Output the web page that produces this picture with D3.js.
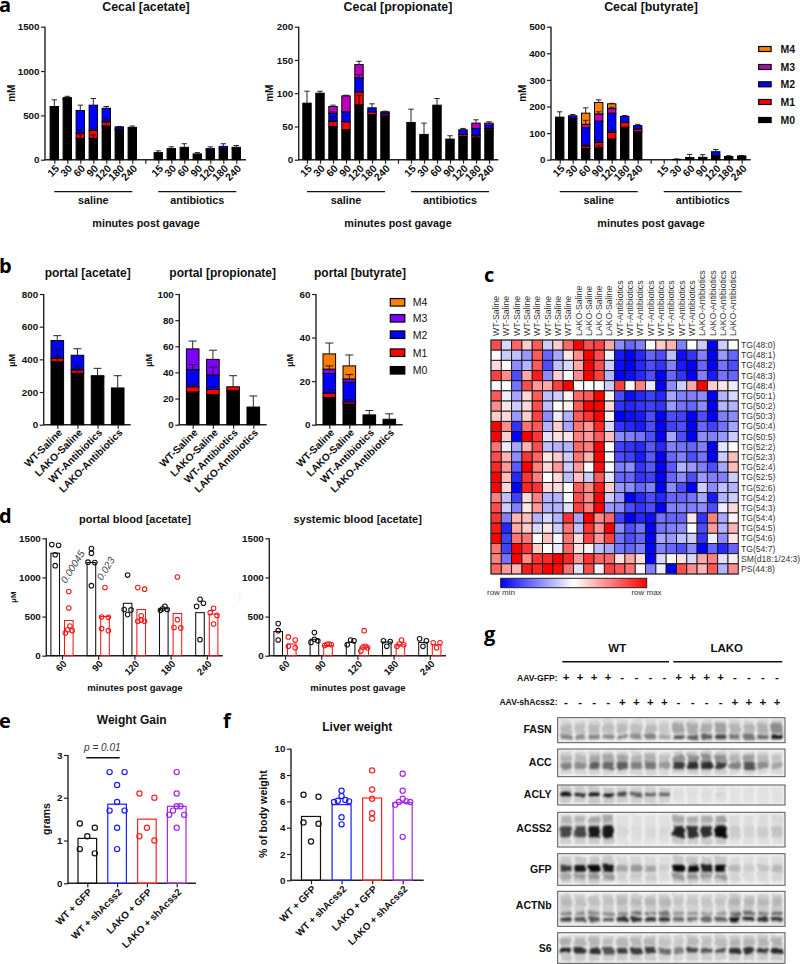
<!DOCTYPE html>
<html><head><meta charset="utf-8">
<script src="https://cdn.jsdelivr.net/npm/d3@7"></script>
<style>html,body{margin:0;padding:0;background:#fff}svg{display:block}text{font-family:"Liberation Sans",Arial,sans-serif;fill:#111}</style>
</head><body><div id="chart"></div>
<script>
// ---------- panel a ----------
const timeLabels = ["15","30","60","90","120","180","240","","15","30","60","90","120","180","240"];
const isotopologues = ["M0","M1","M2","M3","M4"];
const cecalAcetateM0 = [600,680,240,240,380,335,365,0,80,125,140,65,110,125,125];
const cecalAcetateM1 = [0,10,60,90,50,10,0,0,0,0,0,0,0,0,0];
const cecalAcetateM2 = [0,10,255,285,150,25,0,0,0,0,0,0,15,25,15];
const cecalAcetateE0 = [75,0,40,40,40,0,15,0,20,20,40,15,0,0,0];
const cecalAcetateE1 = [0,0,35,25,35,0,0,0,0,0,0,0,0,0,0];
const cecalAcetateE2 = [0,15,60,75,20,5,0,0,0,0,0,0,20,30,20];
const cecalPropM0 = [85,100,50,45,83,68,66,0,56,38,82,31,35,33,45];
const cecalPropM1 = [0,0,8,12,19,4,3,0,0,0,0,0,3,4,2];
const cecalPropM2 = [0,0,12,15,21,6,3,0,0,0,0,0,7,10,5];
const cecalPropM3 = [0,0,10,24,20,0,0,0,0,0,0,0,0,8,3];
const cecalPropE0 = [18,3,8,0,14,0,0,0,20,17,10,5,3,2,0];
const cecalPropE1 = [0,0,6,0,0,0,0,0,0,0,0,0,0,0,0];
const cecalPropE2 = [0,0,2,0,5,6,1,0,0,0,0,0,2,0,0];
const cecalPropE3 = [0,0,2,1,5,0,0,0,0,0,0,0,0,5,2];
const cecalButM0 = [160,155,42,45,78,122,105,0,0,1,8,9,15,12,14];
const cecalButM1 = [0,0,10,20,25,18,10,0,0,0,0,0,0,0,0];
const cecalButM2 = [0,10,68,80,72,23,13,0,0,0,0,0,15,0,0];
const cecalButM3 = [0,0,13,27,17,0,0,0,0,0,0,0,0,0,0];
const cecalButM4 = [0,0,42,43,18,0,0,0,0,0,0,0,0,0,0];
const cecalButE0 = [20,0,8,8,0,0,0,0,0,2,12,10,0,3,2];
const cecalButE1 = [0,0,6,8,12,0,0,0,0,0,0,0,0,0,0];
const cecalButE2 = [0,5,0,0,0,3,5,0,0,0,0,0,8,0,0];
const cecalButE3 = [0,0,15,8,5,0,0,0,0,0,0,0,0,0,0];
const cecalButE4 = [0,0,20,10,2,0,0,0,0,0,0,0,0,0,0];
// ---------- panel b ----------
const portalGroups = ["WT-Saline","LAKO-Saline","WT-Antibiotics","LAKO-Antibiotics"];
const portalAcM0 = [385,315,295,225];
const portalAcM1 = [22,20,0,0];
const portalAcM2 = [108,90,5,0];
const portalAcE0 = [35,30,0,75];
const portalAcE1 = [55,25,0,0];
const portalAcE2 = [30,40,45,0];
const portalPrM0 = [25,23,26,13.5];
const portalPrM1 = [4,4,3,0];
const portalPrM2 = [13,11,0,0];
const portalPrM3 = [16,12,0,0];
const portalPrE1 = [2,2,8.5,8.5];
const portalPrE2 = [4,6,0,0];
const portalPrE3 = [6,7,0,0];
const portalBuM0 = [12.5,9.5,4.5,2.5];
const portalBuM1 = [2,1,0,0];
const portalBuM2 = [9,9,0,0];
const portalBuM3 = [2,1.5,0,0];
const portalBuM4 = [7,6,0,0];
const portalBuE0 = [0,0,2,2.5];
const portalBuE1 = [1.5,1,0,0];
const portalBuE3 = [1.5,2,0,0];
const portalBuE4 = [5,5,0,0];
// ---------- panel c ----------
const heatRows = ["TG(48:0)","TG(48:1)","TG(48:2)","TG(48:3)","TG(48:4)","TG(50:1)","TG(50:2)","TG(50:3)","TG(50:4)","TG(50:5)","TG(52:2)","TG(52:3)","TG(52:4)","TG(52:5)","TG(52:6)","TG(54:2)","TG(54:3)","TG(54:4)","TG(54:5)","TG(54:6)","TG(54:7)","SM(d18:1/24:3)","PS(44:8)"];
const heatCols = ["WT-Saline","WT-Saline","WT-Saline","WT-Saline","WT-Saline","WT-Saline","WT-Saline","WT-Saline","LAKO-Saline","LAKO-Saline","LAKO-Saline","LAKO-Saline","WT-Antibiotics","WT-Antibiotics","WT-Antibiotics","WT-Antibiotics","WT-Antibiotics","WT-Antibiotics","WT-Antibiotics","WT-Antibiotics","LAKO-Antibiotics","LAKO-Antibiotics","LAKO-Antibiotics","LAKO-Antibiotics"];
const heatValues = [
[.7,-.15,.6,.2,.65,-.2,.2,.6,1,.7,.75,.35,-.45,-.6,-.5,0,.2,.3,-.5,0,-.2,-1,-.2,0],
[0,-.2,-.25,-.4,.65,-.6,-.35,.1,.45,1,.7,-.05,-.9,-1,-.85,-.6,-.7,-.25,-.95,-.8,-.5,-1,-.4,-.6],
[.15,0,-.45,-.3,.65,-.7,-.25,-.15,.35,1,.7,-.2,-.95,-1,-.85,-.7,-.8,-.5,-.9,-1,-.6,-1,-.55,-.7],
[.75,.45,-.7,.35,.9,-.45,.2,0,.45,1,.75,-.3,-1,-.95,-.85,-.7,-1,-.6,-.8,-1,-.5,-.9,-.55,-.6],
[0,0,-.55,.7,.4,.35,.75,1,0,0,0,-.2,.75,.03,.5,-.1,-1,-.45,-.2,.35,1,.2,.1,-.07],
[.65,-.07,-.35,.15,.65,-.25,-.2,.05,.6,.65,1,.05,-.7,-.95,-.85,-.75,-.85,-.35,-.5,-.5,-.45,-1,-.3,-.15],
[.45,.1,-.2,.15,.7,-.25,0,.05,.65,1,1,.15,-.8,-.85,-.8,-.75,-.8,-.4,-.55,-.6,-.45,-1,-.3,-.3],
[.2,.15,-.4,.2,.75,-.45,-.07,-.3,.65,.8,1,.05,-1,-.95,-.9,-.7,-1,-.7,-.75,-1,-.7,-1,-.5,-.45],
[1,.45,-.8,.55,.65,-.3,.2,-.35,.55,.4,.85,-.15,-.8,-.85,-.9,-.7,-1,-.75,-.7,-1,-.6,-.75,-.55,-.35],
[1,.2,-1,1,.8,-.12,.12,.1,.5,.4,.65,.25,-.45,-.5,-.55,-.7,-1,-.35,-.7,-1,-.45,-.5,-.4,-.2],
[.55,-.07,-.35,.3,.7,-.25,-.3,-.3,.6,.5,1,0,-.75,-.8,-.85,-.65,-.85,-.5,-.55,-.6,-.5,-1,-.1,0],
[.7,.3,-.45,.8,.6,.1,.2,-.2,.55,.3,1,0,-.7,-.75,-.9,-.65,-1,-.6,-.5,-.7,-.55,-1,-.2,.25],
[.85,.4,-.65,1,.5,.15,.4,-.2,.4,0,.95,-.03,-.5,-.45,-.8,-.65,-1,-.65,-.3,-.4,-.5,-.7,-.35,.25],
[1,.25,-.85,.8,.5,0,.15,-.25,.25,-.2,.65,-.1,-.6,-.6,-.8,-.75,-1,-.6,-.45,-.7,-.4,-.5,-.5,-.2],
[1,.15,-1,.85,.8,.15,.15,0,.65,.45,.9,.2,-.4,-.45,-.6,-.5,-1,-.45,-.7,-1,-.2,-.45,-.25,-.3],
[.5,-.25,-.75,.15,.5,-.3,-.3,0,.7,.45,1,-.2,-.4,-1,-.85,-.7,-.85,-.6,-.6,-.55,-.35,-.9,-.3,-.2],
[.7,-.2,-.5,.1,.4,-.3,-.3,-.12,.75,.5,1,-.4,-.45,-.7,-.8,-.7,-1,-.5,-.5,-.5,-.45,-.7,-.07,.15],
[.8,-.5,.3,.25,-.3,-.15,-.3,.8,-.35,1,.45,.6,-.75,-1,-.85,-.95,-.55,-.6,-.6,.1,-.8,.5,-.35,.05],
[.9,-.85,.35,.2,-.15,.1,-.2,.55,-.25,.8,.4,1,-.45,-.7,-.55,-1,-.55,-.5,-.45,0,-.7,.4,-.3,.3],
[1,-.75,.55,.55,0,.25,-.03,.55,.15,.75,.4,.75,-.55,-.7,-.6,-1,-.35,-.4,-.25,-.2,-.8,-.07,-.45,.1],
[.55,-.75,1,.8,.2,0,-.08,.6,.12,.05,-.25,-.35,-.55,-.6,-.5,-1,-.5,-.6,-.7,-.45,-1,-.6,-.85,-.6],
[.5,-.55,1,.45,.8,.85,1,.85,.4,.8,.6,.6,.12,.35,.12,-1,-.15,.03,.12,-.15,.35,.5,-.12,.07],
[.6,.4,.3,.9,.85,1,.95,.55,-.12,.7,-.05,.75,.65,.55,.03,-.5,-.07,-1,.7,.45,.3,.65,-.3,.45]
];
// ---------- panel d ----------
const dMinutes = ["60","90","120","180","240"];
const portalWtMeans = [1310,1190,670,600,550];
const portalKoMeans = [450,500,590,540,530];
const portalWtPoints = [[1420,1410,1290,1150],[1370,1310,1195,1190,895],[1030,590,585,525],[630,600,590,580],[720,670,630,205]];
const portalKoPoints = [[820,610,380,330,320,290],[870,495,490,345,320],[870,850,510,455,440,440],[1005,460,360,355],[605,550,515,405]];
const systemicWtMeans = [310,210,170,175,170];
const systemicKoMeans = [150,130,110,140,140];
const systemicWtPoints = [[410,320,200],[295,210,190,170],[200,190,140],[190,180,120],[215,190,120]];
const systemicKoPoints = [[240,200,120,100],[150,145,140,130],[320,120,110,100,60],[200,150,140,120],[165,165,100]];
// ---------- panels e, f ----------
const dietGroups = ["WT + GFP","WT + shAcss2","LAKO + GFP","LAKO + shAcss2"];
const gainMeans = [1.05,1.85,1.5,1.8];
const gainPoints = [[1.4,1.3,1.1,.8,.7],[2.6,2.6,2.3,1.9,1.7,1.7,1.3,.8],[2.1,2,1.3,1.1,1],[2.6,2.1,1.8,1.8,1.7,1.6,1.6,1.3]];
const liverMeans = [4.85,5.75,6.25,5.9];
const liverPoints = [[6.5,6.35,4.4,4.3,2.95],[6.8,6.4,6.1,6.05,6,5.95,4.8,4.25],[8.35,6.9,6.2,5.1,4.7],[8.1,6.8,6.2,6,5.95,5.95,5.75,3.3]];
// ---------- panel g (band darkness per lane) ----------
const gfpSigns = ["+","+","+","+","-","-","-","-","+","+","+","+","-","-","-","-"];
const shSigns  = ["-","-","-","-","+","+","+","+","-","-","-","-","+","+","+","+"];
const blotFASN  = [.5,.45,.5,.45,.5,.45,.5,.35,.7,.65,.65,.75,.55,.55,.6,.95];
const blotACC   = [.5,.45,.65,.6,.65,.5,.55,.4,.8,.85,.85,.8,.5,.7,.45,.35];
const blotACLY  = [.95,.85,.95,.95,.75,.65,.65,.6,.05,.06,.08,.12,.02,.02,.03,.03];
const blotACSS2 = [.75,.75,.95,.95,.08,.06,.08,.08,.9,.85,.85,1,.15,.12,.15,.2];
const blotGFP   = [.8,.95,1,.95,.35,.4,.35,.15,1,1,.9,1,.25,.15,.2,.25];
const blotACTNb = [.8,.7,.7,.7,.85,.85,.85,.85,.6,.6,.6,.65,.95,.9,.85,.9];
const blotS6    = [.95,.85,.85,.7,.8,.8,.8,.6,.5,.75,.7,.7,.85,.85,.85,.9];

const svg = d3.select("#chart").append("svg").attr("width",800).attr("height",964).attr("viewBox","0 0 800 964");
const F = '"Liberation Sans",Arial,sans-serif';
function txt(x,y,s,o={}){
  const t = svg.append("text").attr("x",x).attr("y",y).text(s)
   .attr("font-size",o.size||10).attr("font-weight",o.weight||"bold")
   .attr("text-anchor",o.anchor||"middle").attr("font-style",o.style||"normal");
  if(o.fill) t.style("fill",o.fill);
  if(o.family) t.style("font-family",o.family);
  if(o.rot!=null) t.attr("transform",`rotate(${o.rot} ${x} ${y})`);
  return t;
}
function hline(x1,x2,y,w,c){svg.append("line").attr("x1",x1).attr("x2",x2).attr("y1",y).attr("y2",y).attr("stroke",c||"#111").attr("stroke-width",w||1.4);}
const letter=(x,y,s)=>txt(x,y,s,{size:20,anchor:"start",family:'"Open Sans"',fill:"#000"});
function styleAxis(g){
  g.select(".domain").remove();
  g.selectAll(".tick line").attr("stroke","#222").attr("stroke-width",1.2);
  g.selectAll("text").attr("font-size",9.8).attr("font-weight","bold").style("font-family",F).style("fill","#111");
}
function frame(o,xScale,yScale,labels,labelSize){
  const g=svg.append("g");
  const ax=g.append("g").attr("transform",`translate(${o.axisX},0)`)
    .call(d3.axisLeft(yScale).tickValues(o.ticks).tickFormat(d3.format("d")).tickSize(4).tickSizeOuter(0));
  styleAxis(ax);
  ax.selectAll("text").attr("x",-5.5);
  const bx=g.append("g").attr("transform",`translate(0,${o.y0})`)
    .call(d3.axisBottom(xScale).tickSize(4).tickSizeOuter(0).tickFormat(i=>labels[i]));
  styleAxis(bx);
  bx.selectAll("text").attr("text-anchor","end").attr("x",0).attr("y",0).attr("dy",".35em")
    .attr("font-size",labelSize||9.8).attr("transform",`translate(2.5,${o.tilt||7}) rotate(-45)`);
  svg.append("line").attr("x1",o.axisX).attr("x2",o.axisX).attr("y1",yScale.range()[1]).attr("y2",o.y0).attr("stroke","#222").attr("stroke-width",1.4);
  hline(o.axisX-.7,o.xEnd,o.y0,1.4,"#222");
}
const colorsA=["#000","#ff0000","#0000ff","#c000c0","#ff8000"];
const colorsB=["#000","#ff0000","#0000ff","#8000ff","#ff8000"];
function stacked(o){
  const n=o.labels.length;
  const x=d3.scalePoint().domain(d3.range(n)).range([o.first,o.last]);
  const y=d3.scaleLinear().domain([0,o.max]).range([o.y0,o.yTop]);
  frame(o,x,y,o.labels,o.labelSize);
  const rows=d3.range(n).map(i=>{const r={i};o.series.forEach((s,k)=>r[k]=s[i]);return r;});
  const keys=o.series.map((s,k)=>k);
  const st=d3.stack().keys(keys)(rows);
  st.forEach((layer,k)=>{
    svg.append("g").selectAll("rect").data(layer.filter(d=>d[1]>d[0])).join("rect")
      .attr("x",d=>x(d.data.i)-o.barW/2).attr("width",o.barW)
      .attr("y",d=>y(d[1])).attr("height",d=>y(d[0])-y(d[1]))
      .attr("fill",o.colors[k]).attr("stroke","#000").attr("stroke-width",1);
  });
  st.forEach((layer,k)=>{
    const e=o.errs[k]; if(!e) return;
    layer.forEach(d=>{
      const i=d.data.i; if(!e[i]) return;
      const top=d[1]+e[i], cx=x(i);
      svg.append("path").attr("d",`M${cx},${y(d[1])}V${y(top)}M${cx-o.cap/2},${y(top)}H${cx+o.cap/2}`)
        .attr("stroke","#111").attr("stroke-width",.9).attr("fill","none");
    });
  });
  txt(o.titleX,o.titleY,o.title,{size:o.titleSize||12.4});
  txt(o.ylabelX,(o.y0+o.yTop)/2+o.ylabelDy,o.ylabel,{size:o.ylabelSize||10,rot:-90});
}
const A={y0:159.7,yTop:26.7,barW:8.4,cap:5.4,labels:timeLabels,colors:colorsA,titleY:10.5,ylabel:"mM",ylabelDy:0,tilt:7,labelSize:10.4};
stacked({...A,axisX:45,first:54.3,last:236.3,xEnd:246,max:1500,ticks:[0,500,1000,1500],title:"Cecal [acetate]",titleX:146,ylabelX:14.7,
  series:[cecalAcetateM0,cecalAcetateM1,cecalAcetateM2],errs:[cecalAcetateE0,cecalAcetateE1,cecalAcetateE2]});
stacked({...A,axisX:298.7,first:307,last:489,xEnd:498.3,max:200,ticks:[0,50,100,150,200],title:"Cecal [propionate]",titleX:398,ylabelX:273,
  series:[cecalPropM0,cecalPropM1,cecalPropM2,cecalPropM3],errs:[cecalPropE0,cecalPropE1,cecalPropE2,cecalPropE3]});
stacked({...A,axisX:551,first:559.7,last:741.7,xEnd:750.7,max:500,ticks:[0,100,200,300,400,500],title:"Cecal [butyrate]",titleX:651,ylabelX:526,
  series:[cecalButM0,cecalButM1,cecalButM2,cecalButM3,cecalButM4],errs:[cecalButE0,cecalButE1,cecalButE2,cecalButE3,cecalButE4]});
function groupRule(x1,x2,label){hline(x1,x2,191.7,1.3);txt((x1+x2)/2,204,label,{size:10.8});}
[[54.3,132.3,"saline"],[158.3,236.3,"antibiotics"],[307,385,"saline"],[411,489,"antibiotics"],[559.7,637.7,"saline"],[663.7,741.7,"antibiotics"]].forEach(a=>groupRule(...a));
[146,398,651].forEach(x=>txt(x,227,"minutes post gavage",{size:10.8}));
function legend(keys,colors,ys,x,w,h,lx,weight,size){
  keys.forEach((k,i)=>{
    svg.append("rect").attr("x",x).attr("y",ys[i]-h/2).attr("width",w).attr("height",h).attr("fill",colors[k]).attr("stroke","#000").attr("stroke-width",1.2);
    txt(lx,ys[i]+3.8,isotopologues[k],{size,anchor:"start",weight});
  });
}
legend([4,3,2,1,0],colorsA,[49,67,84.3,102,120],758.7,12.4,5,780.5,"bold",10.5);
// b
const B={y0:424.7,yTop:294,barW:12.6,cap:8,labels:portalGroups,colors:colorsB,titleY:277,titleSize:12,ylabel:"\u00b5M",ylabelDy:1,ylabelSize:9,labelSize:10.2,tilt:6};
stacked({...B,axisX:43.7,first:57.3,last:117.7,xEnd:130.7,max:800,ticks:[0,200,400,600,800],title:"portal [acetate]",titleX:87.7,ylabelX:15,
  series:[portalAcM0,portalAcM1,portalAcM2],errs:[portalAcE0,portalAcE1,portalAcE2]});
stacked({...B,axisX:179.3,first:192.7,last:253.3,xEnd:266.7,max:100,ticks:[0,20,40,60,80,100],title:"portal [propionate]",titleX:222.7,ylabelX:151.7,
  series:[portalPrM0,portalPrM1,portalPrM2,portalPrM3],errs:[null,portalPrE1,portalPrE2,portalPrE3]});
stacked({...B,axisX:316,first:329.3,last:389.3,xEnd:402.7,max:60,ticks:[0,20,40,60],title:"portal [butyrate]",titleX:360,ylabelX:292.7,
  series:[portalBuM0,portalBuM1,portalBuM2,portalBuM3,portalBuM4],errs:[portalBuE0,portalBuE1,null,portalBuE3,portalBuE4]});
legend([4,3,2,1,0],colorsB,[302.3,318.3,334.7,352.7,370.3],390.3,14.5,7.5,412.7,"normal",10.5);
// c heatmap
const hx=d3.scaleBand().domain(d3.range(heatCols.length)).range([491,738.3]);
const hy=d3.scaleBand().domain(d3.range(heatRows.length)).range([340,574]);
const heatColor=d3.scaleLinear().domain([-1,0,1]).range(["#0000ff","#ffffff","#ff0000"]);
const hg=svg.append("g");
heatValues.forEach((row,r)=>{
  hg.append("g").selectAll("rect").data(row).join("rect")
    .attr("x",(d,c)=>hx(c)).attr("y",hy(r)).attr("width",hx.bandwidth()).attr("height",hy.bandwidth())
    .attr("fill",d=>heatColor(d)).attr("stroke","#111").attr("stroke-width",.9);
});
svg.append("rect").attr("x",491).attr("y",340).attr("width",247.3).attr("height",234).attr("fill","none").attr("stroke","#444").attr("stroke-width",1);
heatRows.forEach((s,r)=>txt(741,hy(r)+hy.bandwidth()/2+3,s,{size:8.6,weight:"normal",anchor:"start",fill:"#333"}));
heatCols.forEach((s,c)=>{const x=hx(c)+hx.bandwidth()/2+3;txt(x,336,s,{size:8.7,weight:"normal",anchor:"start",rot:-90,fill:"#333"});});
const defs=svg.append("defs");
const grad=defs.append("linearGradient").attr("id","rowGrad");
heatColor.domain().forEach((d,i)=>grad.append("stop").attr("offset",(d+1)/2).attr("stop-color",heatColor(d)));
svg.append("rect").attr("x",500.7).attr("y",578.3).attr("width",146).attr("height",9.4).attr("fill","url(#rowGrad)").attr("stroke","#222").attr("stroke-width",1);
txt(501,594.5,"row min",{size:8,weight:"normal",fill:"#333"});
txt(646.5,594.5,"row max",{size:8,weight:"normal",fill:"#333"});
// spread of nearby points, as in a scatter column
function spread(values,yScale,thr,d){
  const sorted=[...values].sort((a,b)=>b-a),out=[];
  let cl=[];
  const flush=()=>{
    const n=cl.length;
    let slots=n===1?[0]:n===2?[-d,d]:d3.range(n).map(i=>-d+2*d*i/(n-1));
    if(n>2) slots.sort((a,b)=>Math.abs(a)-Math.abs(b)||b-a);
    cl.forEach((v,i)=>out.push({v,dx:slots[i]}));cl=[];
  };
  sorted.forEach(v=>{
    if(cl.length&&yScale(v)-yScale(cl[cl.length-1])>thr) flush();
    cl.push(v);
  });
  flush();
  return out;
}
function col(cx,w,mean,pts,y,y0,color,thr,d,r,sw){
  svg.append("rect").attr("x",cx-w/2).attr("width",w).attr("y",y(mean)).attr("height",y0-y(mean)).attr("fill","none").attr("stroke",color).attr("stroke-width",sw);
  svg.append("g").selectAll("circle").data(spread(pts,y,thr,d)).join("circle")
    .attr("cx",p=>cx+p.dx).attr("cy",p=>y(p.v)).attr("r",r).attr("fill","none").attr("stroke",color).attr("stroke-width",sw);
}
function panelD(o){
  const x=d3.scalePoint().domain(d3.range(5)).range([o.first,o.first+36.2*4]);
  const y=d3.scaleLinear().domain([0,1500]).range([o.y0,o.yTop]);
  frame(o,x,y,dMinutes,9.6);
  d3.range(5).forEach(i=>{
    col(x(i)-6.8,8.6,o.wm[i],o.wp[i],y,o.y0,"#111",4.2,3.4,2.3,1.05);
    col(x(i)+6.8,8.6,o.km[i],o.kp[i],y,o.y0,"#f01818",4.2,3.4,2.3,1.05);
  });
  txt(o.first+73,691,"minutes post gavage",{size:9.6});
  txt(o.titleX,523,o.title,{size:11});
}
panelD({axisX:46.3,first:62,xEnd:222.7,y0:655.7,yTop:538.3,ticks:[0,500,1000,1500],tilt:6.5,wm:portalWtMeans,km:portalKoMeans,wp:portalWtPoints,kp:portalKoPoints,title:"portal blood [acetate]",titleX:135});
panelD({axisX:269.3,first:285,xEnd:446,y0:655.7,yTop:538.3,ticks:[0,500,1000,1500],tilt:6.5,wm:systemicWtMeans,km:systemicKoMeans,wp:systemicWtPoints,kp:systemicKoPoints,title:"systemic blood [acetate]",titleX:357.7});
txt(15.5,597,"\u00b5M",{size:8,rot:-90});
txt(239.5,597,".....",{size:6,weight:"normal",rot:-90,fill:"#aaa"});
txt(66,584,"0.00045",{size:10,weight:"normal",style:"italic",anchor:"start",rot:-58,fill:"#444"});
txt(102,581,"0.023",{size:10,weight:"normal",style:"italic",anchor:"start",rot:-58,fill:"#444"});
// e f
const groupColors=["#111","#1c1cff","#ff2222","#a526e8"];
function panelEF(o){
  const x=d3.scalePoint().domain(d3.range(4)).range([o.first,o.last]);
  const y=d3.scaleLinear().domain([0,o.max]).range([o.y0,o.yTop]);
  frame(o,x,y,dietGroups,9.8);
  d3.range(4).forEach(i=>col(x(i),o.w,o.means[i],o.points[i],y,o.y0,groupColors[i],4.4,7.5,2.6,1.2));
  txt(o.titleX,o.titleY,o.title,{size:12});
  txt(o.ylabelX,o.ylabelY,o.ylabel,{size:10.7,rot:-90});
}
panelEF({axisX:68,first:87.3,last:176.7,xEnd:196,y0:883.3,yTop:755,max:3,ticks:[0,1,2,3],tilt:7,w:18.6,means:gainMeans,points:gainPoints,title:"Weight Gain",titleX:131.7,titleY:724,ylabel:"grams",ylabelX:49.5,ylabelY:819});
txt(102.3,750.5,"p = 0.01",{size:10,weight:"normal",style:"italic",fill:"#333"});
hline(86.3,119.7,757.7,1.6);
panelEF({axisX:291,first:311,last:402.7,xEnd:423.7,y0:880.3,yTop:748.7,max:10,ticks:[0,2,4,6,8,10],tilt:7,w:19,means:liverMeans,points:liverPoints,title:"Liver weight",titleX:357.3,titleY:730.7,ylabel:"% of body weight",ylabelX:266.5,ylabelY:814});
// letters
letter(-1,11.5,"a");letter(-1,273,"b");letter(484,281.5,"c");letter(-1,523,"d");letter(-1,728,"e");letter(223,728,"f");letter(484,641,"g");
// g
txt(617.3,651.5,"WT",{size:11.5});txt(726.7,651.5,"LAKO",{size:11.5});
hline(562.3,669,661.7,1.6);hline(673.3,782.3,661.7,1.6);
txt(557.5,680.7,"AAV-GFP:",{size:8.6,anchor:"end"});
txt(557.5,705.3,"AAV-shAcss2:",{size:8.6,anchor:"end"});
const lane=d3.scalePoint().domain(d3.range(16)).range([566,777]);
gfpSigns.forEach((s,i)=>txt(lane(i),681.4,s,{size:11.5}));
shSigns.forEach((s,i)=>txt(lane(i),706,s,{size:11.5}));
const blur=defs.append("filter").attr("id","blotBlur").attr("x","-10%").attr("y","-30%").attr("width","120%").attr("height","160%");
blur.append("feTurbulence").attr("type","fractalNoise").attr("baseFrequency","0.05 0.18").attr("numOctaves",2).attr("seed",4).attr("result","n");
blur.append("feDisplacementMap").attr("in","SourceGraphic").attr("in2","n").attr("scale",5).attr("result","d");
blur.append("feGaussianBlur").attr("in","d").attr("stdDeviation",.9);
const bandsByBlot=[
 {name:"FASN",vals:blotFASN,y1:717.7,y2:742.7,base:733.3,bands:[[.43,9,.33],[.76,4.5,1]]},
 {name:"ACC",vals:blotACC,y1:749,y2:776.7,base:766,bands:[[.33,7,.4],[.6,7,1]]},
 {name:"ACLY",vals:blotACLY,y1:785,y2:805,base:798.3,bands:[[.47,3.6,1]]},
 {name:"ACSS2",vals:blotACSS2,y1:812.3,y2:847,base:831.7,bands:[[.2,6,.2],[.56,11,1]]},
 {name:"GFP",vals:blotGFP,y1:853.7,y2:885.3,base:872.7,bands:[[.46,7,1],[.72,5,.25]]},
 {name:"ACTNb",vals:blotACTNb,y1:891.3,y2:926.3,base:909.3,bands:[[.3,7,.12],[.63,3.2,.55],[.8,4,1]]},
 {name:"S6",vals:blotS6,y1:932.7,y2:963.3,base:951.7,bands:[[.3,7,.15],[.59,5.5,1]]}
];
bandsByBlot.forEach((b,k)=>{
  defs.append("clipPath").attr("id","bc"+k).append("rect").attr("x",557.7).attr("y",b.y1).attr("width",227.3).attr("height",b.y2-b.y1);
  svg.append("rect").attr("x",557.7).attr("y",b.y1).attr("width",227.3).attr("height",b.y2-b.y1).attr("fill","#f1f1f1");
  const g=svg.append("g").attr("clip-path",`url(#bc${k})`).append("g").attr("filter","url(#blotBlur)");
  const laneW=11.4,hgt=b.y2-b.y1;
  b.vals.forEach((v,i)=>{
    g.append("rect").attr("x",lane(i)-laneW/2).attr("width",laneW).attr("y",b.y1+hgt*.08).attr("height",hgt*.84).attr("fill","#000").attr("opacity",.06+.12*v);
    b.bands.forEach(([f,h,a])=>{
      g.append("rect").attr("x",lane(i)-laneW/2).attr("width",laneW).attr("y",b.y1+hgt*f-h/2).attr("height",h).attr("rx",1.5)
       .attr("fill","#000").attr("opacity",Math.min(1,Math.pow(v,1.3)*a*.95));
    });
  });
  svg.append("rect").attr("x",557.7).attr("y",b.y1).attr("width",227.3).attr("height",hgt).attr("fill","none").attr("stroke","#555").attr("stroke-width",1);
  txt(551.7,b.base,b.name,{size:10.6,anchor:"end"});
});
</script></body></html>
